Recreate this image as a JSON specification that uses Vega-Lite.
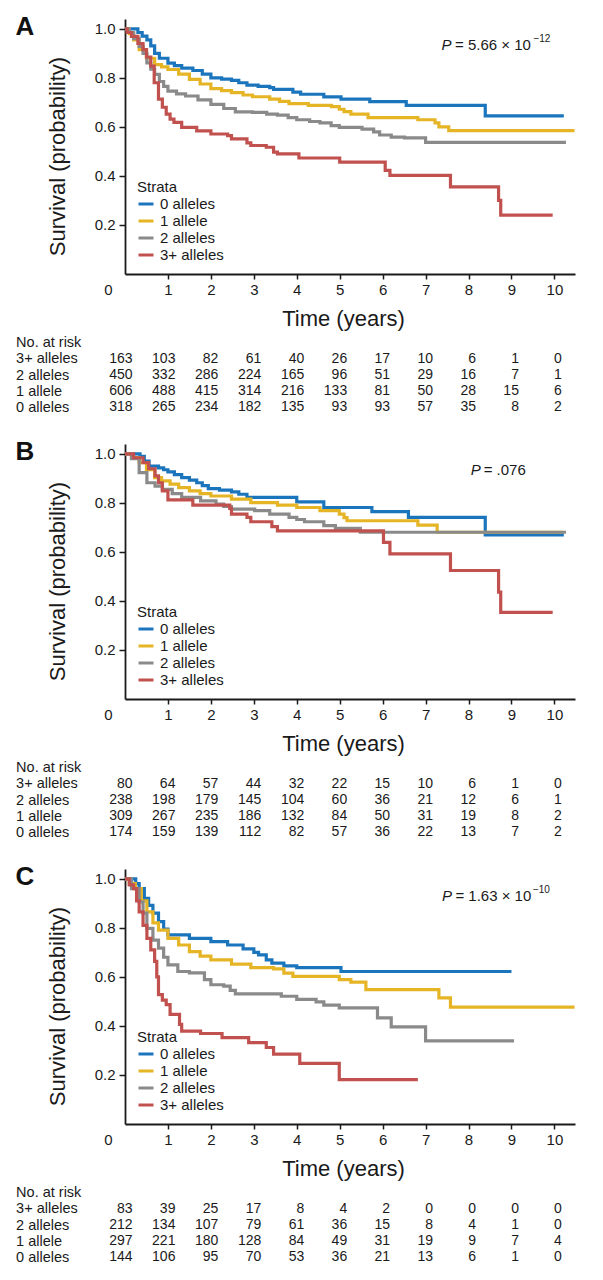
{
"$schema": "https://vega.github.io/schema/vega-lite/v6.json",
"background": "white",
"padding": {"left": 15, "top": 13, "right": 8, "bottom": 4},
"bounds": "flush",
"spacing": 20,
"resolve": {"legend": {"color": "independent"}},
"config": {
  "font": "Liberation Sans",
  "view": {"stroke": null},
  "axis": {"grid": false, "domainColor": "#1a1a1a", "tickColor": "#1a1a1a", "labelColor": "#1a1a1a", "titleColor": "#1a1a1a", "domainWidth": 1.8, "tickWidth": 1.5, "labelFontSize": 15, "titleFontWeight": "normal"},
  "legend": {"orient": "none", "legendX": 12, "legendY": 161, "padding": 0, "titleFontSize": 15, "titleFontWeight": "normal", "titleColor": "#1a1a1a", "titlePadding": 0, "labelFontSize": 15, "labelColor": "#1a1a1a", "symbolType": "stroke", "symbolStrokeWidth": 3, "symbolSize": 225, "labelOffset": 5, "rowPadding": 0},
  "title": {"fontSize": 26, "fontWeight": "bold", "color": "#111111", "anchor": "start", "frame": "group", "dx": -109.4, "offset": -20.5, "baseline": "alphabetic"}
},
"datasets": {
"pv": [
{"p":"A","t":7.37,"s":0.935,"pl":"P","m":"= 5.66 × 10","e":"−12"},
{"p":"B","t":8.05,"s":0.936,"pl":"P","m":"= .076","e":""},
{"p":"C","t":7.38,"s":0.93,"pl":"P","m":"= 1.63 × 10","e":"−10"}
],
"km": [
{"p":"A","g":"0 alleles","t":0,"s":1},{"p":"A","g":"0 alleles","t":0.2,"s":1},{"p":"A","g":"0 alleles","t":0.3,"s":0.985},{"p":"A","g":"0 alleles","t":0.4,"s":0.97},{"p":"A","g":"0 alleles","t":0.51,"s":0.955},{"p":"A","g":"0 alleles","t":0.6,"s":0.93},{"p":"A","g":"0 alleles","t":0.69,"s":0.9},{"p":"A","g":"0 alleles","t":0.8,"s":0.88},{"p":"A","g":"0 alleles","t":1,"s":0.86},{"p":"A","g":"0 alleles","t":1.15,"s":0.85},{"p":"A","g":"0 alleles","t":1.32,"s":0.84},{"p":"A","g":"0 alleles","t":1.58,"s":0.83},{"p":"A","g":"0 alleles","t":1.8,"s":0.815},{"p":"A","g":"0 alleles","t":2,"s":0.8},{"p":"A","g":"0 alleles","t":2.25,"s":0.795},{"p":"A","g":"0 alleles","t":2.48,"s":0.79},{"p":"A","g":"0 alleles","t":2.65,"s":0.78},{"p":"A","g":"0 alleles","t":2.84,"s":0.77},{"p":"A","g":"0 alleles","t":3.1,"s":0.765},{"p":"A","g":"0 alleles","t":3.37,"s":0.76},{"p":"A","g":"0 alleles","t":3.46,"s":0.753},{"p":"A","g":"0 alleles","t":3.91,"s":0.742},{"p":"A","g":"0 alleles","t":4.09,"s":0.733},{"p":"A","g":"0 alleles","t":4.63,"s":0.722},{"p":"A","g":"0 alleles","t":5.03,"s":0.713},{"p":"A","g":"0 alleles","t":5.7,"s":0.703},{"p":"A","g":"0 alleles","t":6.55,"s":0.688},{"p":"A","g":"0 alleles","t":8.39,"s":0.645},{"p":"A","g":"0 alleles","t":10.22,"s":0.645},
{"p":"A","g":"1 allele","t":0,"s":1},{"p":"A","g":"1 allele","t":0.1,"s":0.98},{"p":"A","g":"1 allele","t":0.2,"s":0.955},{"p":"A","g":"1 allele","t":0.33,"s":0.915},{"p":"A","g":"1 allele","t":0.5,"s":0.88},{"p":"A","g":"1 allele","t":0.69,"s":0.854},{"p":"A","g":"1 allele","t":0.85,"s":0.845},{"p":"A","g":"1 allele","t":1,"s":0.834},{"p":"A","g":"1 allele","t":1.25,"s":0.815},{"p":"A","g":"1 allele","t":1.5,"s":0.794},{"p":"A","g":"1 allele","t":1.75,"s":0.775},{"p":"A","g":"1 allele","t":2,"s":0.756},{"p":"A","g":"1 allele","t":2.25,"s":0.748},{"p":"A","g":"1 allele","t":2.48,"s":0.74},{"p":"A","g":"1 allele","t":2.75,"s":0.73},{"p":"A","g":"1 allele","t":2.97,"s":0.723},{"p":"A","g":"1 allele","t":3.37,"s":0.713},{"p":"A","g":"1 allele","t":3.6,"s":0.704},{"p":"A","g":"1 allele","t":3.82,"s":0.695},{"p":"A","g":"1 allele","t":4.27,"s":0.688},{"p":"A","g":"1 allele","t":4.81,"s":0.683},{"p":"A","g":"1 allele","t":4.99,"s":0.672},{"p":"A","g":"1 allele","t":5.1,"s":0.662},{"p":"A","g":"1 allele","t":5.26,"s":0.652},{"p":"A","g":"1 allele","t":5.66,"s":0.638},{"p":"A","g":"1 allele","t":6.82,"s":0.629},{"p":"A","g":"1 allele","t":7.22,"s":0.616},{"p":"A","g":"1 allele","t":7.31,"s":0.6},{"p":"A","g":"1 allele","t":7.54,"s":0.585},{"p":"A","g":"1 allele","t":10.47,"s":0.585},
{"p":"A","g":"2 alleles","t":0,"s":1},{"p":"A","g":"2 alleles","t":0.1,"s":0.985},{"p":"A","g":"2 alleles","t":0.2,"s":0.96},{"p":"A","g":"2 alleles","t":0.33,"s":0.928},{"p":"A","g":"2 alleles","t":0.42,"s":0.9},{"p":"A","g":"2 alleles","t":0.51,"s":0.861},{"p":"A","g":"2 alleles","t":0.6,"s":0.835},{"p":"A","g":"2 alleles","t":0.69,"s":0.814},{"p":"A","g":"2 alleles","t":0.8,"s":0.785},{"p":"A","g":"2 alleles","t":0.9,"s":0.765},{"p":"A","g":"2 alleles","t":1,"s":0.746},{"p":"A","g":"2 alleles","t":1.2,"s":0.735},{"p":"A","g":"2 alleles","t":1.41,"s":0.726},{"p":"A","g":"2 alleles","t":1.7,"s":0.71},{"p":"A","g":"2 alleles","t":2,"s":0.692},{"p":"A","g":"2 alleles","t":2.3,"s":0.675},{"p":"A","g":"2 alleles","t":2.57,"s":0.661},{"p":"A","g":"2 alleles","t":2.97,"s":0.659},{"p":"A","g":"2 alleles","t":3.3,"s":0.652},{"p":"A","g":"2 alleles","t":3.55,"s":0.648},{"p":"A","g":"2 alleles","t":3.8,"s":0.638},{"p":"A","g":"2 alleles","t":4,"s":0.629},{"p":"A","g":"2 alleles","t":4.3,"s":0.622},{"p":"A","g":"2 alleles","t":4.54,"s":0.616},{"p":"A","g":"2 alleles","t":4.8,"s":0.605},{"p":"A","g":"2 alleles","t":4.99,"s":0.598},{"p":"A","g":"2 alleles","t":5.52,"s":0.591},{"p":"A","g":"2 alleles","t":5.79,"s":0.58},{"p":"A","g":"2 alleles","t":5.93,"s":0.567},{"p":"A","g":"2 alleles","t":6.2,"s":0.558},{"p":"A","g":"2 alleles","t":6.51,"s":0.555},{"p":"A","g":"2 alleles","t":7,"s":0.537},{"p":"A","g":"2 alleles","t":10.27,"s":0.537},
{"p":"A","g":"3+ alleles","t":0,"s":1},{"p":"A","g":"3+ alleles","t":0.05,"s":0.985},{"p":"A","g":"3+ alleles","t":0.15,"s":0.969},{"p":"A","g":"3+ alleles","t":0.3,"s":0.94},{"p":"A","g":"3+ alleles","t":0.42,"s":0.915},{"p":"A","g":"3+ alleles","t":0.5,"s":0.885},{"p":"A","g":"3+ alleles","t":0.6,"s":0.848},{"p":"A","g":"3+ alleles","t":0.68,"s":0.78},{"p":"A","g":"3+ alleles","t":0.78,"s":0.713},{"p":"A","g":"3+ alleles","t":0.87,"s":0.68},{"p":"A","g":"3+ alleles","t":0.96,"s":0.652},{"p":"A","g":"3+ alleles","t":1.05,"s":0.632},{"p":"A","g":"3+ alleles","t":1.14,"s":0.618},{"p":"A","g":"3+ alleles","t":1.32,"s":0.598},{"p":"A","g":"3+ alleles","t":1.67,"s":0.584},{"p":"A","g":"3+ alleles","t":2,"s":0.571},{"p":"A","g":"3+ alleles","t":2.39,"s":0.564},{"p":"A","g":"3+ alleles","t":2.48,"s":0.551},{"p":"A","g":"3+ alleles","t":2.84,"s":0.535},{"p":"A","g":"3+ alleles","t":2.93,"s":0.524},{"p":"A","g":"3+ alleles","t":3.29,"s":0.517},{"p":"A","g":"3+ alleles","t":3.46,"s":0.497},{"p":"A","g":"3+ alleles","t":3.55,"s":0.49},{"p":"A","g":"3+ alleles","t":4.05,"s":0.473},{"p":"A","g":"3+ alleles","t":5,"s":0.456},{"p":"A","g":"3+ alleles","t":6.06,"s":0.423},{"p":"A","g":"3+ alleles","t":6.17,"s":0.402},{"p":"A","g":"3+ alleles","t":7.58,"s":0.355},{"p":"A","g":"3+ alleles","t":8.7,"s":0.3},{"p":"A","g":"3+ alleles","t":8.75,"s":0.24},{"p":"A","g":"3+ alleles","t":9.96,"s":0.24},
{"p":"B","g":"0 alleles","t":0,"s":1},{"p":"B","g":"0 alleles","t":0.24,"s":1},{"p":"B","g":"0 alleles","t":0.35,"s":0.99},{"p":"B","g":"0 alleles","t":0.45,"s":0.97},{"p":"B","g":"0 alleles","t":0.56,"s":0.95},{"p":"B","g":"0 alleles","t":0.78,"s":0.943},{"p":"B","g":"0 alleles","t":0.9,"s":0.935},{"p":"B","g":"0 alleles","t":1,"s":0.926},{"p":"B","g":"0 alleles","t":1.15,"s":0.915},{"p":"B","g":"0 alleles","t":1.32,"s":0.903},{"p":"B","g":"0 alleles","t":1.5,"s":0.893},{"p":"B","g":"0 alleles","t":1.67,"s":0.882},{"p":"B","g":"0 alleles","t":1.8,"s":0.87},{"p":"B","g":"0 alleles","t":1.94,"s":0.858},{"p":"B","g":"0 alleles","t":2.2,"s":0.852},{"p":"B","g":"0 alleles","t":2.48,"s":0.845},{"p":"B","g":"0 alleles","t":2.65,"s":0.835},{"p":"B","g":"0 alleles","t":2.84,"s":0.822},{"p":"B","g":"0 alleles","t":4,"s":0.804},{"p":"B","g":"0 alleles","t":4.63,"s":0.781},{"p":"B","g":"0 alleles","t":5.75,"s":0.764},{"p":"B","g":"0 alleles","t":6.6,"s":0.741},{"p":"B","g":"0 alleles","t":8.39,"s":0.669},{"p":"B","g":"0 alleles","t":10.22,"s":0.669},
{"p":"B","g":"1 allele","t":0,"s":1},{"p":"B","g":"1 allele","t":0.15,"s":0.985},{"p":"B","g":"1 allele","t":0.33,"s":0.964},{"p":"B","g":"1 allele","t":0.5,"s":0.935},{"p":"B","g":"1 allele","t":0.69,"s":0.903},{"p":"B","g":"1 allele","t":0.85,"s":0.89},{"p":"B","g":"1 allele","t":1.05,"s":0.876},{"p":"B","g":"1 allele","t":1.25,"s":0.862},{"p":"B","g":"1 allele","t":1.5,"s":0.849},{"p":"B","g":"1 allele","t":1.75,"s":0.838},{"p":"B","g":"1 allele","t":2,"s":0.828},{"p":"B","g":"1 allele","t":2.48,"s":0.815},{"p":"B","g":"1 allele","t":2.93,"s":0.801},{"p":"B","g":"1 allele","t":3.55,"s":0.791},{"p":"B","g":"1 allele","t":4,"s":0.781},{"p":"B","g":"1 allele","t":4.54,"s":0.768},{"p":"B","g":"1 allele","t":4.99,"s":0.754},{"p":"B","g":"1 allele","t":5.1,"s":0.74},{"p":"B","g":"1 allele","t":5.17,"s":0.727},{"p":"B","g":"1 allele","t":6.82,"s":0.709},{"p":"B","g":"1 allele","t":7.27,"s":0.68},{"p":"B","g":"1 allele","t":10.2,"s":0.68},
{"p":"B","g":"2 alleles","t":0,"s":1},{"p":"B","g":"2 alleles","t":0.15,"s":0.98},{"p":"B","g":"2 alleles","t":0.33,"s":0.923},{"p":"B","g":"2 alleles","t":0.51,"s":0.882},{"p":"B","g":"2 alleles","t":0.7,"s":0.868},{"p":"B","g":"2 alleles","t":0.87,"s":0.855},{"p":"B","g":"2 alleles","t":1.1,"s":0.838},{"p":"B","g":"2 alleles","t":1.32,"s":0.822},{"p":"B","g":"2 alleles","t":1.76,"s":0.808},{"p":"B","g":"2 alleles","t":2.12,"s":0.795},{"p":"B","g":"2 alleles","t":2.3,"s":0.785},{"p":"B","g":"2 alleles","t":2.48,"s":0.774},{"p":"B","g":"2 alleles","t":3.02,"s":0.768},{"p":"B","g":"2 alleles","t":3.37,"s":0.754},{"p":"B","g":"2 alleles","t":3.82,"s":0.741},{"p":"B","g":"2 alleles","t":4,"s":0.732},{"p":"B","g":"2 alleles","t":4.18,"s":0.723},{"p":"B","g":"2 alleles","t":4.63,"s":0.707},{"p":"B","g":"2 alleles","t":4.9,"s":0.696},{"p":"B","g":"2 alleles","t":5.48,"s":0.68},{"p":"B","g":"2 alleles","t":10.27,"s":0.68},
{"p":"B","g":"3+ alleles","t":0,"s":1},{"p":"B","g":"3+ alleles","t":0.2,"s":0.984},{"p":"B","g":"3+ alleles","t":0.42,"s":0.964},{"p":"B","g":"3+ alleles","t":0.55,"s":0.939},{"p":"B","g":"3+ alleles","t":0.7,"s":0.91},{"p":"B","g":"3+ alleles","t":0.78,"s":0.882},{"p":"B","g":"3+ alleles","t":0.87,"s":0.849},{"p":"B","g":"3+ alleles","t":1,"s":0.812},{"p":"B","g":"3+ alleles","t":1.58,"s":0.791},{"p":"B","g":"3+ alleles","t":2.44,"s":0.777},{"p":"B","g":"3+ alleles","t":2.48,"s":0.754},{"p":"B","g":"3+ alleles","t":2.84,"s":0.741},{"p":"B","g":"3+ alleles","t":2.93,"s":0.723},{"p":"B","g":"3+ alleles","t":3.42,"s":0.703},{"p":"B","g":"3+ alleles","t":3.55,"s":0.686},{"p":"B","g":"3+ alleles","t":6.02,"s":0.639},{"p":"B","g":"3+ alleles","t":6.17,"s":0.592},{"p":"B","g":"3+ alleles","t":7.58,"s":0.524},{"p":"B","g":"3+ alleles","t":8.7,"s":0.436},{"p":"B","g":"3+ alleles","t":8.75,"s":0.353},{"p":"B","g":"3+ alleles","t":9.96,"s":0.353},
{"p":"C","g":"0 alleles","t":0,"s":1},{"p":"C","g":"0 alleles","t":0.15,"s":1},{"p":"C","g":"0 alleles","t":0.25,"s":0.98},{"p":"C","g":"0 alleles","t":0.33,"s":0.96},{"p":"C","g":"0 alleles","t":0.45,"s":0.92},{"p":"C","g":"0 alleles","t":0.55,"s":0.892},{"p":"C","g":"0 alleles","t":0.65,"s":0.86},{"p":"C","g":"0 alleles","t":0.78,"s":0.825},{"p":"C","g":"0 alleles","t":0.9,"s":0.795},{"p":"C","g":"0 alleles","t":1,"s":0.771},{"p":"C","g":"0 alleles","t":1.5,"s":0.757},{"p":"C","g":"0 alleles","t":2,"s":0.744},{"p":"C","g":"0 alleles","t":2.39,"s":0.73},{"p":"C","g":"0 alleles","t":2.75,"s":0.714},{"p":"C","g":"0 alleles","t":3,"s":0.7},{"p":"C","g":"0 alleles","t":3.11,"s":0.69},{"p":"C","g":"0 alleles","t":3.29,"s":0.669},{"p":"C","g":"0 alleles","t":3.42,"s":0.656},{"p":"C","g":"0 alleles","t":3.7,"s":0.645},{"p":"C","g":"0 alleles","t":4,"s":0.638},{"p":"C","g":"0 alleles","t":5.03,"s":0.622},{"p":"C","g":"0 alleles","t":9,"s":0.622},
{"p":"C","g":"1 allele","t":0,"s":1},{"p":"C","g":"1 allele","t":0.1,"s":0.98},{"p":"C","g":"1 allele","t":0.24,"s":0.96},{"p":"C","g":"1 allele","t":0.38,"s":0.91},{"p":"C","g":"1 allele","t":0.51,"s":0.865},{"p":"C","g":"1 allele","t":0.65,"s":0.82},{"p":"C","g":"1 allele","t":0.78,"s":0.791},{"p":"C","g":"1 allele","t":1,"s":0.757},{"p":"C","g":"1 allele","t":1.25,"s":0.73},{"p":"C","g":"1 allele","t":1.5,"s":0.703},{"p":"C","g":"1 allele","t":1.75,"s":0.685},{"p":"C","g":"1 allele","t":2,"s":0.669},{"p":"C","g":"1 allele","t":2.48,"s":0.652},{"p":"C","g":"1 allele","t":2.93,"s":0.638},{"p":"C","g":"1 allele","t":3.46,"s":0.633},{"p":"C","g":"1 allele","t":3.7,"s":0.615},{"p":"C","g":"1 allele","t":3.91,"s":0.602},{"p":"C","g":"1 allele","t":4.99,"s":0.589},{"p":"C","g":"1 allele","t":5.26,"s":0.579},{"p":"C","g":"1 allele","t":5.61,"s":0.548},{"p":"C","g":"1 allele","t":7.31,"s":0.514},{"p":"C","g":"1 allele","t":7.58,"s":0.477},{"p":"C","g":"1 allele","t":10.47,"s":0.477},
{"p":"C","g":"2 alleles","t":0,"s":1},{"p":"C","g":"2 alleles","t":0.15,"s":0.96},{"p":"C","g":"2 alleles","t":0.33,"s":0.906},{"p":"C","g":"2 alleles","t":0.42,"s":0.86},{"p":"C","g":"2 alleles","t":0.51,"s":0.798},{"p":"C","g":"2 alleles","t":0.65,"s":0.75},{"p":"C","g":"2 alleles","t":0.78,"s":0.717},{"p":"C","g":"2 alleles","t":0.9,"s":0.68},{"p":"C","g":"2 alleles","t":1,"s":0.649},{"p":"C","g":"2 alleles","t":1.23,"s":0.622},{"p":"C","g":"2 alleles","t":1.5,"s":0.616},{"p":"C","g":"2 alleles","t":1.85,"s":0.589},{"p":"C","g":"2 alleles","t":2,"s":0.568},{"p":"C","g":"2 alleles","t":2.3,"s":0.562},{"p":"C","g":"2 alleles","t":2.45,"s":0.545},{"p":"C","g":"2 alleles","t":2.57,"s":0.531},{"p":"C","g":"2 alleles","t":3.64,"s":0.521},{"p":"C","g":"2 alleles","t":4,"s":0.508},{"p":"C","g":"2 alleles","t":4.45,"s":0.498},{"p":"C","g":"2 alleles","t":4.63,"s":0.485},{"p":"C","g":"2 alleles","t":4.99,"s":0.474},{"p":"C","g":"2 alleles","t":5.88,"s":0.433},{"p":"C","g":"2 alleles","t":6.2,"s":0.396},{"p":"C","g":"2 alleles","t":7,"s":0.339},{"p":"C","g":"2 alleles","t":9.06,"s":0.339},
{"p":"C","g":"3+ alleles","t":0,"s":1},{"p":"C","g":"3+ alleles","t":0.1,"s":0.975},{"p":"C","g":"3+ alleles","t":0.2,"s":0.96},{"p":"C","g":"3+ alleles","t":0.27,"s":0.91},{"p":"C","g":"3+ alleles","t":0.33,"s":0.865},{"p":"C","g":"3+ alleles","t":0.42,"s":0.81},{"p":"C","g":"3+ alleles","t":0.51,"s":0.757},{"p":"C","g":"3+ alleles","t":0.6,"s":0.71},{"p":"C","g":"3+ alleles","t":0.69,"s":0.663},{"p":"C","g":"3+ alleles","t":0.74,"s":0.6},{"p":"C","g":"3+ alleles","t":0.78,"s":0.528},{"p":"C","g":"3+ alleles","t":0.87,"s":0.505},{"p":"C","g":"3+ alleles","t":0.96,"s":0.487},{"p":"C","g":"3+ alleles","t":1.05,"s":0.447},{"p":"C","g":"3+ alleles","t":1.27,"s":0.406},{"p":"C","g":"3+ alleles","t":1.32,"s":0.379},{"p":"C","g":"3+ alleles","t":1.76,"s":0.369},{"p":"C","g":"3+ alleles","t":2.26,"s":0.352},{"p":"C","g":"3+ alleles","t":2.88,"s":0.332},{"p":"C","g":"3+ alleles","t":3.29,"s":0.312},{"p":"C","g":"3+ alleles","t":3.46,"s":0.285},{"p":"C","g":"3+ alleles","t":4.07,"s":0.247},{"p":"C","g":"3+ alleles","t":4.99,"s":0.181},{"p":"C","g":"3+ alleles","t":6.82,"s":0.181}
],
"risk": [
{"p":"A","g":"3+ alleles","t":0,"n":163},{"p":"A","g":"3+ alleles","t":1,"n":103},{"p":"A","g":"3+ alleles","t":2,"n":82},{"p":"A","g":"3+ alleles","t":3,"n":61},{"p":"A","g":"3+ alleles","t":4,"n":40},{"p":"A","g":"3+ alleles","t":5,"n":26},{"p":"A","g":"3+ alleles","t":6,"n":17},{"p":"A","g":"3+ alleles","t":7,"n":10},{"p":"A","g":"3+ alleles","t":8,"n":6},{"p":"A","g":"3+ alleles","t":9,"n":1},{"p":"A","g":"3+ alleles","t":10,"n":0},
{"p":"A","g":"2 alleles","t":0,"n":450},{"p":"A","g":"2 alleles","t":1,"n":332},{"p":"A","g":"2 alleles","t":2,"n":286},{"p":"A","g":"2 alleles","t":3,"n":224},{"p":"A","g":"2 alleles","t":4,"n":165},{"p":"A","g":"2 alleles","t":5,"n":96},{"p":"A","g":"2 alleles","t":6,"n":51},{"p":"A","g":"2 alleles","t":7,"n":29},{"p":"A","g":"2 alleles","t":8,"n":16},{"p":"A","g":"2 alleles","t":9,"n":7},{"p":"A","g":"2 alleles","t":10,"n":1},
{"p":"A","g":"1 allele","t":0,"n":606},{"p":"A","g":"1 allele","t":1,"n":488},{"p":"A","g":"1 allele","t":2,"n":415},{"p":"A","g":"1 allele","t":3,"n":314},{"p":"A","g":"1 allele","t":4,"n":216},{"p":"A","g":"1 allele","t":5,"n":133},{"p":"A","g":"1 allele","t":6,"n":81},{"p":"A","g":"1 allele","t":7,"n":50},{"p":"A","g":"1 allele","t":8,"n":28},{"p":"A","g":"1 allele","t":9,"n":15},{"p":"A","g":"1 allele","t":10,"n":6},
{"p":"A","g":"0 alleles","t":0,"n":318},{"p":"A","g":"0 alleles","t":1,"n":265},{"p":"A","g":"0 alleles","t":2,"n":234},{"p":"A","g":"0 alleles","t":3,"n":182},{"p":"A","g":"0 alleles","t":4,"n":135},{"p":"A","g":"0 alleles","t":5,"n":93},{"p":"A","g":"0 alleles","t":6,"n":93},{"p":"A","g":"0 alleles","t":7,"n":57},{"p":"A","g":"0 alleles","t":8,"n":35},{"p":"A","g":"0 alleles","t":9,"n":8},{"p":"A","g":"0 alleles","t":10,"n":2},
{"p":"B","g":"3+ alleles","t":0,"n":80},{"p":"B","g":"3+ alleles","t":1,"n":64},{"p":"B","g":"3+ alleles","t":2,"n":57},{"p":"B","g":"3+ alleles","t":3,"n":44},{"p":"B","g":"3+ alleles","t":4,"n":32},{"p":"B","g":"3+ alleles","t":5,"n":22},{"p":"B","g":"3+ alleles","t":6,"n":15},{"p":"B","g":"3+ alleles","t":7,"n":10},{"p":"B","g":"3+ alleles","t":8,"n":6},{"p":"B","g":"3+ alleles","t":9,"n":1},{"p":"B","g":"3+ alleles","t":10,"n":0},
{"p":"B","g":"2 alleles","t":0,"n":238},{"p":"B","g":"2 alleles","t":1,"n":198},{"p":"B","g":"2 alleles","t":2,"n":179},{"p":"B","g":"2 alleles","t":3,"n":145},{"p":"B","g":"2 alleles","t":4,"n":104},{"p":"B","g":"2 alleles","t":5,"n":60},{"p":"B","g":"2 alleles","t":6,"n":36},{"p":"B","g":"2 alleles","t":7,"n":21},{"p":"B","g":"2 alleles","t":8,"n":12},{"p":"B","g":"2 alleles","t":9,"n":6},{"p":"B","g":"2 alleles","t":10,"n":1},
{"p":"B","g":"1 allele","t":0,"n":309},{"p":"B","g":"1 allele","t":1,"n":267},{"p":"B","g":"1 allele","t":2,"n":235},{"p":"B","g":"1 allele","t":3,"n":186},{"p":"B","g":"1 allele","t":4,"n":132},{"p":"B","g":"1 allele","t":5,"n":84},{"p":"B","g":"1 allele","t":6,"n":50},{"p":"B","g":"1 allele","t":7,"n":31},{"p":"B","g":"1 allele","t":8,"n":19},{"p":"B","g":"1 allele","t":9,"n":8},{"p":"B","g":"1 allele","t":10,"n":2},
{"p":"B","g":"0 alleles","t":0,"n":174},{"p":"B","g":"0 alleles","t":1,"n":159},{"p":"B","g":"0 alleles","t":2,"n":139},{"p":"B","g":"0 alleles","t":3,"n":112},{"p":"B","g":"0 alleles","t":4,"n":82},{"p":"B","g":"0 alleles","t":5,"n":57},{"p":"B","g":"0 alleles","t":6,"n":36},{"p":"B","g":"0 alleles","t":7,"n":22},{"p":"B","g":"0 alleles","t":8,"n":13},{"p":"B","g":"0 alleles","t":9,"n":7},{"p":"B","g":"0 alleles","t":10,"n":2},
{"p":"C","g":"3+ alleles","t":0,"n":83},{"p":"C","g":"3+ alleles","t":1,"n":39},{"p":"C","g":"3+ alleles","t":2,"n":25},{"p":"C","g":"3+ alleles","t":3,"n":17},{"p":"C","g":"3+ alleles","t":4,"n":8},{"p":"C","g":"3+ alleles","t":5,"n":4},{"p":"C","g":"3+ alleles","t":6,"n":2},{"p":"C","g":"3+ alleles","t":7,"n":0},{"p":"C","g":"3+ alleles","t":8,"n":0},{"p":"C","g":"3+ alleles","t":9,"n":0},{"p":"C","g":"3+ alleles","t":10,"n":0},
{"p":"C","g":"2 alleles","t":0,"n":212},{"p":"C","g":"2 alleles","t":1,"n":134},{"p":"C","g":"2 alleles","t":2,"n":107},{"p":"C","g":"2 alleles","t":3,"n":79},{"p":"C","g":"2 alleles","t":4,"n":61},{"p":"C","g":"2 alleles","t":5,"n":36},{"p":"C","g":"2 alleles","t":6,"n":15},{"p":"C","g":"2 alleles","t":7,"n":8},{"p":"C","g":"2 alleles","t":8,"n":4},{"p":"C","g":"2 alleles","t":9,"n":1},{"p":"C","g":"2 alleles","t":10,"n":0},
{"p":"C","g":"1 allele","t":0,"n":297},{"p":"C","g":"1 allele","t":1,"n":221},{"p":"C","g":"1 allele","t":2,"n":180},{"p":"C","g":"1 allele","t":3,"n":128},{"p":"C","g":"1 allele","t":4,"n":84},{"p":"C","g":"1 allele","t":5,"n":49},{"p":"C","g":"1 allele","t":6,"n":31},{"p":"C","g":"1 allele","t":7,"n":19},{"p":"C","g":"1 allele","t":8,"n":9},{"p":"C","g":"1 allele","t":9,"n":7},{"p":"C","g":"1 allele","t":10,"n":4},
{"p":"C","g":"0 alleles","t":0,"n":144},{"p":"C","g":"0 alleles","t":1,"n":106},{"p":"C","g":"0 alleles","t":2,"n":95},{"p":"C","g":"0 alleles","t":3,"n":70},{"p":"C","g":"0 alleles","t":4,"n":53},{"p":"C","g":"0 alleles","t":5,"n":36},{"p":"C","g":"0 alleles","t":6,"n":21},{"p":"C","g":"0 alleles","t":7,"n":13},{"p":"C","g":"0 alleles","t":8,"n":6},{"p":"C","g":"0 alleles","t":9,"n":1},{"p":"C","g":"0 alleles","t":10,"n":0}
]
},
"vconcat": [
{
 "width": 450, "height": 255,
 "title": {"text": "A"},
 "layer": [
  {"data": {"name": "km"}, "transform": [{"filter": "datum.p === 'A'"}],
   "mark": {"type": "line", "interpolate": "step-after", "strokeWidth": 3.2},
   "encoding": {
    "x": {"field": "t", "type": "quantitative", "scale": {"domain": [0, 10.48], "nice": false, "zero": false},
      "axis": {"values": [0,1,2,3,4,5,6,7,8,9,10], "title": "Time (years)", "titleFontSize": 22, "titleFontWeight": "normal", "titlePadding": 11, "titleX": 218, "tickSize": 5, "labelPadding": 3, "labelFlush": false, "labelOverlap": false, "labelBound": false,
        "labelOffset": {"condition": {"test": "datum.value === 0", "value": -17}, "value": 0},
        "tickOpacity": {"condition": {"test": "datum.value === 0", "value": 0}, "value": 1}}},
    "y": {"field": "s", "type": "quantitative", "scale": {"domain": [0, 1.04], "nice": false},
      "axis": {"values": [0.2,0.4,0.6,0.8,1.0], "format": ".1f", "title": "Survival (probability)", "titleFontSize": 22, "titleFontWeight": "normal", "titlePadding": 25, "titleY": 137, "tickSize": 6, "labelPadding": 4}},
    "color": {"field": "g", "type": "nominal",
      "scale": {"domain": ["0 alleles","1 allele","2 alleles","3+ alleles"], "range": ["#1b75bc","#e5b526","#8a8a8a","#c1514e"]},
      "legend": {"title": "Strata", "orient": "none", "legendX": 12, "legendY": 161}}
   }},
  {"data": {"name": "pv"}, "transform": [{"filter": "datum.p === 'A'"}],
   "mark": {"type": "text", "align": "left", "baseline": "middle", "fontSize": 15, "fontStyle": "italic", "color": "#1a1a1a"},
   "encoding": {"x": {"field": "t", "type": "quantitative"}, "y": {"field": "s", "type": "quantitative"}, "text": {"field": "pl"}}},
  {"data": {"name": "pv"}, "transform": [{"filter": "datum.p === 'A'"}],
   "mark": {"type": "text", "align": "left", "baseline": "middle", "fontSize": 15, "dx": 13.5, "color": "#1a1a1a"},
   "encoding": {"x": {"field": "t", "type": "quantitative"}, "y": {"field": "s", "type": "quantitative"}, "text": {"field": "m"}}},
  {"data": {"name": "pv"}, "transform": [{"filter": "datum.p === 'A'"}],
   "mark": {"type": "text", "align": "left", "baseline": "middle", "fontSize": 10, "dx": 92, "dy": -6, "color": "#1a1a1a"},
   "encoding": {"x": {"field": "t", "type": "quantitative"}, "y": {"field": "s", "type": "quantitative"}, "text": {"field": "e"}}}
 ]
},
{
 "width": 450, "height": 129.6,
 "data": {"name": "risk"}, "transform": [{"filter": "datum.p === 'A'"}],
 "mark": {"type": "text", "align": "right", "baseline": "middle", "dx": 7.5, "fontSize": 14, "color": "#1a1a1a"},
 "encoding": {
  "x": {"field": "t", "type": "quantitative", "scale": {"domain": [0, 10.48], "nice": false, "zero": false}, "axis": null},
  "y": {"field": "g", "type": "nominal", "scale": {"type": "point", "domain": ["No. at risk","3+ alleles","2 alleles","1 allele","0 alleles"], "range": [48.6, 113.4], "padding": 0},
    "axis": {"title": null, "domain": false, "ticks": false, "labelAlign": "left", "labelBaseline": "middle", "labelPadding": 109.4, "labelFontSize": 14.5}},
  "text": {"field": "n", "type": "quantitative"}
 }
},
{
 "width": 450, "height": 255,
 "title": {"text": "B"},
 "layer": [
  {"data": {"name": "km"}, "transform": [{"filter": "datum.p === 'B'"}],
   "mark": {"type": "line", "interpolate": "step-after", "strokeWidth": 3.2},
   "encoding": {
    "x": {"field": "t", "type": "quantitative", "scale": {"domain": [0, 10.48], "nice": false, "zero": false},
      "axis": {"values": [0,1,2,3,4,5,6,7,8,9,10], "title": "Time (years)", "titleFontSize": 22, "titleFontWeight": "normal", "titlePadding": 11, "titleX": 218, "tickSize": 5, "labelPadding": 3, "labelFlush": false, "labelOverlap": false, "labelBound": false,
        "labelOffset": {"condition": {"test": "datum.value === 0", "value": -17}, "value": 0},
        "tickOpacity": {"condition": {"test": "datum.value === 0", "value": 0}, "value": 1}}},
    "y": {"field": "s", "type": "quantitative", "scale": {"domain": [0, 1.04], "nice": false},
      "axis": {"values": [0.2,0.4,0.6,0.8,1.0], "format": ".1f", "title": "Survival (probability)", "titleFontSize": 22, "titleFontWeight": "normal", "titlePadding": 25, "titleY": 137, "tickSize": 6, "labelPadding": 4}},
    "color": {"field": "g", "type": "nominal",
      "scale": {"domain": ["0 alleles","1 allele","2 alleles","3+ alleles"], "range": ["#1b75bc","#e5b526","#8a8a8a","#c1514e"]},
      "legend": {"title": "Strata", "orient": "none", "legendX": 12, "legendY": 161}}
   }},
  {"data": {"name": "pv"}, "transform": [{"filter": "datum.p === 'B'"}],
   "mark": {"type": "text", "align": "left", "baseline": "middle", "fontSize": 15, "fontStyle": "italic", "color": "#1a1a1a"},
   "encoding": {"x": {"field": "t", "type": "quantitative"}, "y": {"field": "s", "type": "quantitative"}, "text": {"field": "pl"}}},
  {"data": {"name": "pv"}, "transform": [{"filter": "datum.p === 'B'"}],
   "mark": {"type": "text", "align": "left", "baseline": "middle", "fontSize": 15, "dx": 13, "color": "#1a1a1a"},
   "encoding": {"x": {"field": "t", "type": "quantitative"}, "y": {"field": "s", "type": "quantitative"}, "text": {"field": "m"}}}
 ]
},
{
 "width": 450, "height": 129.6,
 "data": {"name": "risk"}, "transform": [{"filter": "datum.p === 'B'"}],
 "mark": {"type": "text", "align": "right", "baseline": "middle", "dx": 7.5, "fontSize": 14, "color": "#1a1a1a"},
 "encoding": {
  "x": {"field": "t", "type": "quantitative", "scale": {"domain": [0, 10.48], "nice": false, "zero": false}, "axis": null},
  "y": {"field": "g", "type": "nominal", "scale": {"type": "point", "domain": ["No. at risk","3+ alleles","2 alleles","1 allele","0 alleles"], "range": [48.6, 113.4], "padding": 0},
    "axis": {"title": null, "domain": false, "ticks": false, "labelAlign": "left", "labelBaseline": "middle", "labelPadding": 109.4, "labelFontSize": 14.5}},
  "text": {"field": "n", "type": "quantitative"}
 }
},
{
 "width": 450, "height": 255,
 "title": {"text": "C"},
 "layer": [
  {"data": {"name": "km"}, "transform": [{"filter": "datum.p === 'C'"}],
   "mark": {"type": "line", "interpolate": "step-after", "strokeWidth": 3.2},
   "encoding": {
    "x": {"field": "t", "type": "quantitative", "scale": {"domain": [0, 10.48], "nice": false, "zero": false},
      "axis": {"values": [0,1,2,3,4,5,6,7,8,9,10], "title": "Time (years)", "titleFontSize": 22, "titleFontWeight": "normal", "titlePadding": 11, "titleX": 218, "tickSize": 5, "labelPadding": 3, "labelFlush": false, "labelOverlap": false, "labelBound": false,
        "labelOffset": {"condition": {"test": "datum.value === 0", "value": -17}, "value": 0},
        "tickOpacity": {"condition": {"test": "datum.value === 0", "value": 0}, "value": 1}}},
    "y": {"field": "s", "type": "quantitative", "scale": {"domain": [0, 1.04], "nice": false},
      "axis": {"values": [0.2,0.4,0.6,0.8,1.0], "format": ".1f", "title": "Survival (probability)", "titleFontSize": 22, "titleFontWeight": "normal", "titlePadding": 25, "titleY": 137, "tickSize": 6, "labelPadding": 4}},
    "color": {"field": "g", "type": "nominal",
      "scale": {"domain": ["0 alleles","1 allele","2 alleles","3+ alleles"], "range": ["#1b75bc","#e5b526","#8a8a8a","#c1514e"]},
      "legend": {"title": "Strata", "orient": "none", "legendX": 12, "legendY": 161}}
   }},
  {"data": {"name": "pv"}, "transform": [{"filter": "datum.p === 'C'"}],
   "mark": {"type": "text", "align": "left", "baseline": "middle", "fontSize": 15, "fontStyle": "italic", "color": "#1a1a1a"},
   "encoding": {"x": {"field": "t", "type": "quantitative"}, "y": {"field": "s", "type": "quantitative"}, "text": {"field": "pl"}}},
  {"data": {"name": "pv"}, "transform": [{"filter": "datum.p === 'C'"}],
   "mark": {"type": "text", "align": "left", "baseline": "middle", "fontSize": 15, "dx": 13.5, "color": "#1a1a1a"},
   "encoding": {"x": {"field": "t", "type": "quantitative"}, "y": {"field": "s", "type": "quantitative"}, "text": {"field": "m"}}},
  {"data": {"name": "pv"}, "transform": [{"filter": "datum.p === 'C'"}],
   "mark": {"type": "text", "align": "left", "baseline": "middle", "fontSize": 10, "dx": 91, "dy": -6, "color": "#1a1a1a"},
   "encoding": {"x": {"field": "t", "type": "quantitative"}, "y": {"field": "s", "type": "quantitative"}, "text": {"field": "e"}}}
 ]
},
{
 "width": 450, "height": 129.6,
 "data": {"name": "risk"}, "transform": [{"filter": "datum.p === 'C'"}],
 "mark": {"type": "text", "align": "right", "baseline": "middle", "dx": 7.5, "fontSize": 14, "color": "#1a1a1a"},
 "encoding": {
  "x": {"field": "t", "type": "quantitative", "scale": {"domain": [0, 10.48], "nice": false, "zero": false}, "axis": null},
  "y": {"field": "g", "type": "nominal", "scale": {"type": "point", "domain": ["No. at risk","3+ alleles","2 alleles","1 allele","0 alleles"], "range": [48.6, 113.4], "padding": 0},
    "axis": {"title": null, "domain": false, "ticks": false, "labelAlign": "left", "labelBaseline": "middle", "labelPadding": 109.4, "labelFontSize": 14.5}},
  "text": {"field": "n", "type": "quantitative"}
 }
}
]
}
